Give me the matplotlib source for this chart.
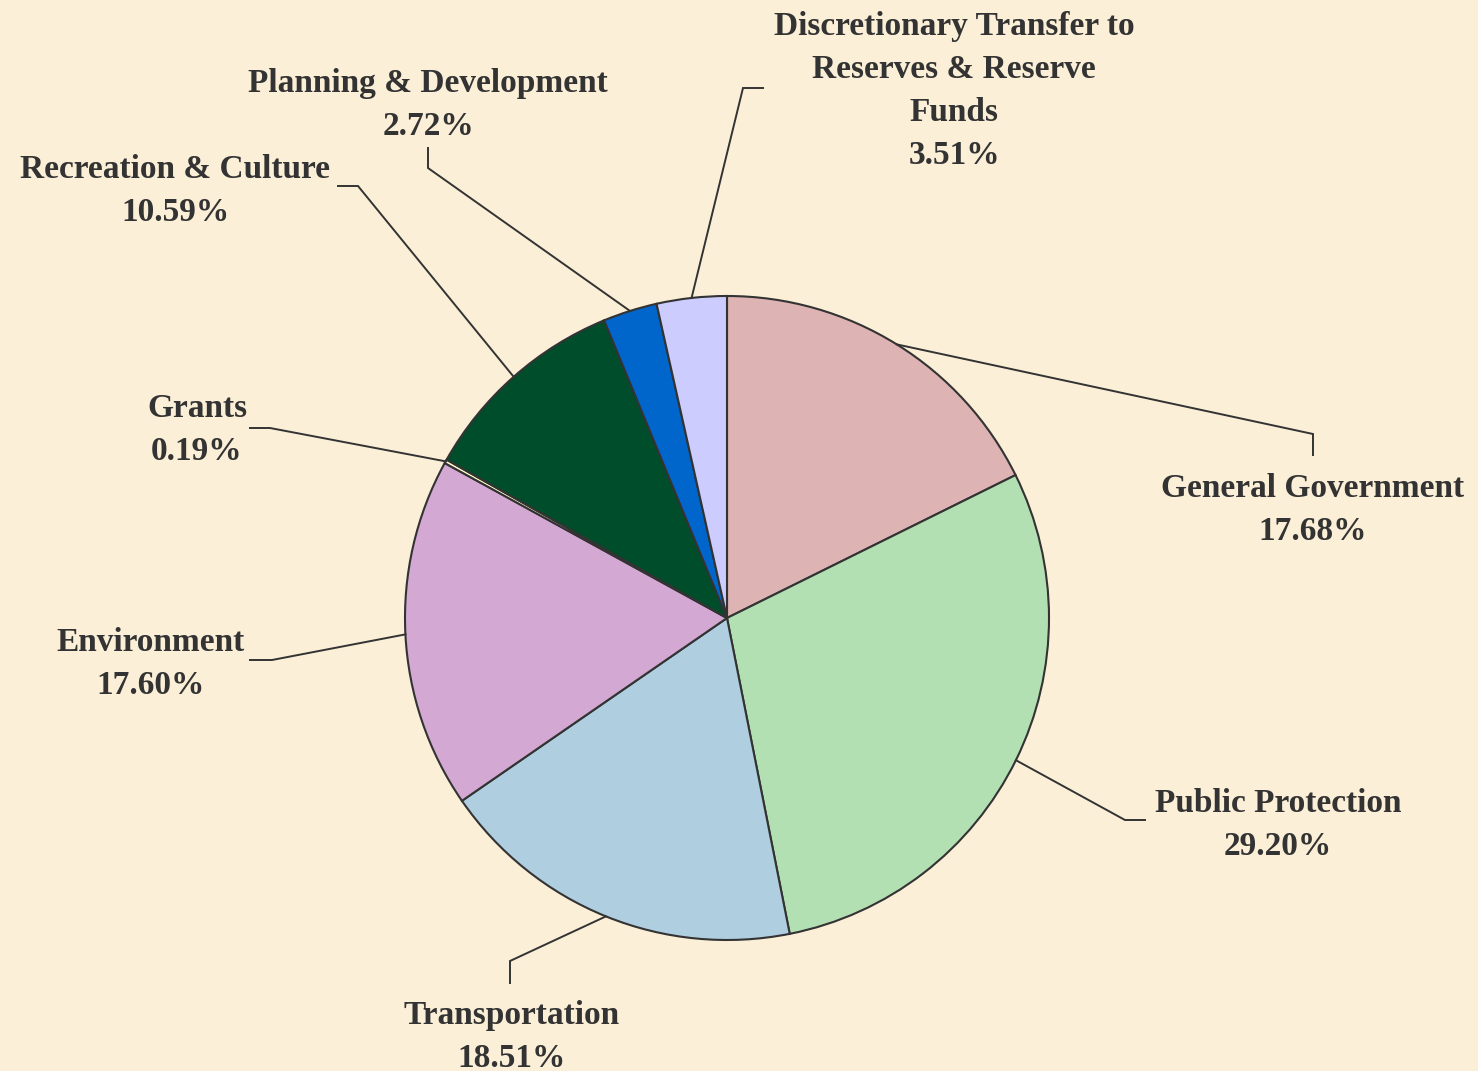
import numpy as np
import matplotlib.pyplot as plt

# slices, clockwise from 12 o'clock
categories = ["General Government", "Public Protection", "Transportation",
              "Environment", "Grants", "Recreation & Culture",
              "Planning & Development",
              "Discretionary Transfer to\nReserves & Reserve\nFunds"]
shares = [17.68, 29.20, 18.51, 17.60, 0.19, 10.59, 2.72, 3.51]
colors = ["#DEB3B3", "#B3E0B3", "#AFCEDF", "#D3A8D3", "#FFFFCC",
          "#004D2B", "#0066CC", "#CCCCFF"]

# label layout in pixel coords (y down): elbow, end of short tick, text centre
elbows = [(1313, 434), (1125, 820), (510, 961), (272, 660),
          (270, 428), (358, 186), (428, 168), (743, 88)]
ticks = [(1313, 455), (1145, 820), (510, 983), (250, 660),
         (250, 428), (338, 186), (428, 148), (763, 88)]
text_pos = [(1313, 510), (1278, 825), (512, 1037), (151, 664),
            (197, 430), (175, 191), (428, 105), (954, 91)]

W, H = 1478, 1071
cx, cy, r = 727, 618, 322
ink = "#333333"

fig = plt.figure(figsize=(W / 100, H / 100), dpi=100)
fig.patch.set_facecolor("#FBEFD7")
ax = fig.add_axes([0, 0, 1, 1])

wedges, _ = ax.pie(shares, colors=colors, startangle=90, counterclock=False,
                   center=(cx, H - cy), radius=r, frame=True,
                   wedgeprops=dict(edgecolor=ink, linewidth=1.5))
ax.set_xlim(0, W)
ax.set_ylim(0, H)
ax.axis("off")

font = dict(family="Liberation Serif", fontweight="bold", fontsize=24,
            color=ink, ha="center", va="center", linespacing=1.49)

for w, lab, val, (ex, ey), (tx, ty), (lx, ly) in zip(
        wedges, categories, shares, elbows, ticks, text_pos):
    ang = np.deg2rad((w.theta1 + w.theta2) / 2)
    ax_, ay_ = cx + r * np.cos(ang), (H - cy) + r * np.sin(ang)
    ax.plot([ax_, ex, tx], [ay_, H - ey, H - ty], color=ink, lw=1.4,
            solid_joinstyle="miter")
    ax.text(lx, H - ly, f"{lab}\n{val:.2f}%", **font)

fig.savefig("out.png", dpi=100, facecolor=fig.get_facecolor())
